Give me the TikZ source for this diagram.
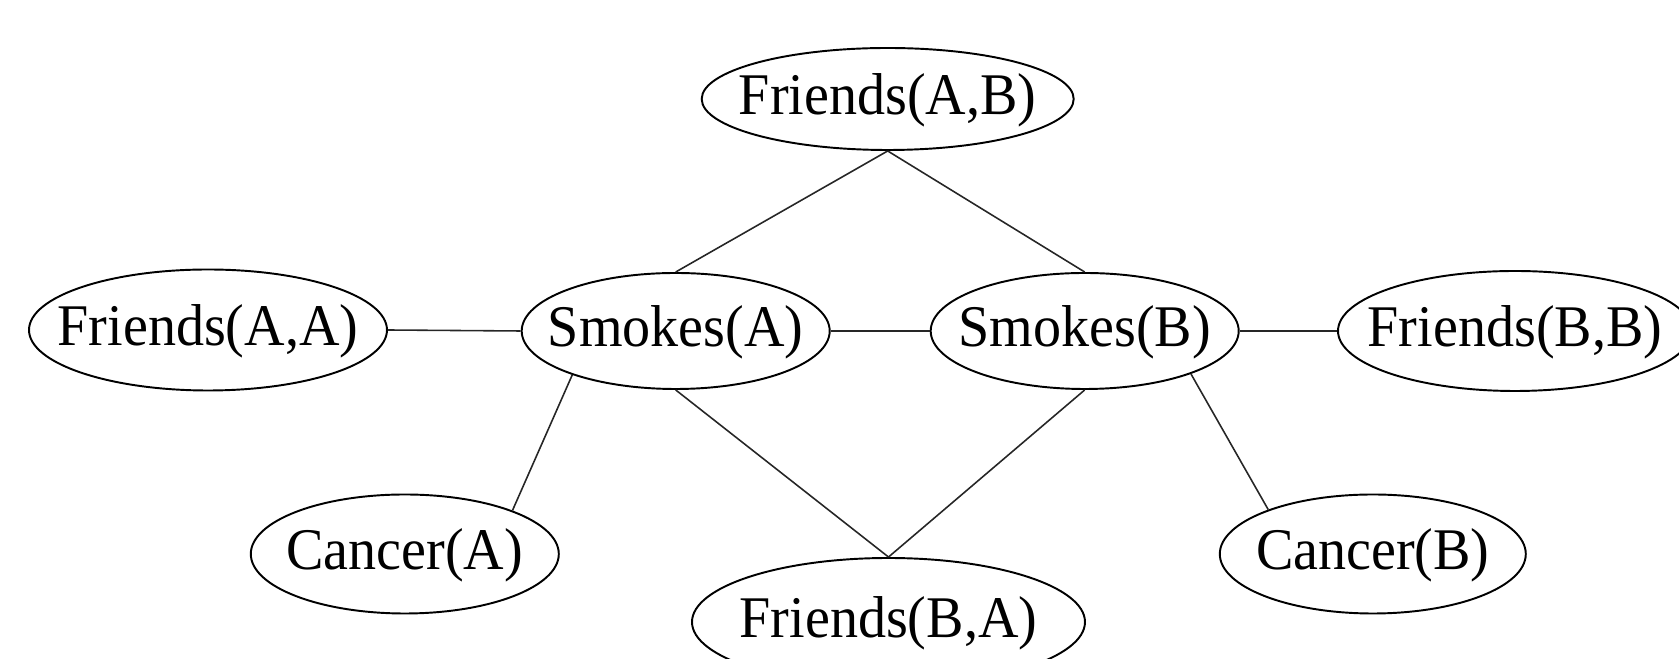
\documentclass[tikz,border=0pt]{standalone}
\usepackage{fontspec}
\setmainfont{Liberation Serif}[FakeStretch=0.95]
\usetikzlibrary{shapes.geometric}
\tikzset{
  ell/.style={ellipse, draw=black, line width=0.55pt, inner sep=0pt},
  lbl/.style={font=\fontsize{16.8}{19}\selectfont, yshift=-0.5pt},
  edge/.style={draw=black!85, line width=0.45pt}
}
\begin{document}
\begin{tikzpicture}[every label/.style={lbl}]
\useasboundingbox (0,0) rectangle (16.79,-6.59);
\clip (0,0) rectangle (16.79,-6.59);
\node[ell, minimum width=3.72cm, minimum height=1.02cm, label={center:Friends(A,B)}] (fab) at (8.877,-0.99) {};
\node[ell, minimum width=3.58cm, minimum height=1.21cm, label={center:Friends(A,A)}] (faa) at (2.08,-3.30) {};
\node[ell, minimum width=3.08cm, minimum height=1.16cm, label={center:Smokes(A)}] (sa) at (6.757,-3.31) {};
\node[ell, minimum width=3.08cm, minimum height=1.16cm, label={center:Smokes(B)}] (sb) at (10.847,-3.31) {};
\node[ell, minimum width=3.54cm, minimum height=1.20cm, label={center:Friends(B,B)}] (fbb) at (15.15,-3.31) {};
\node[ell, minimum width=3.08cm, minimum height=1.19cm, label={center:Cancer(A)}] (ca) at (4.048,-5.54) {};
\node[ell, minimum width=3.06cm, minimum height=1.19cm, label={center:Cancer(B)}] (cb) at (13.728,-5.54) {};
\node[ell, minimum width=3.93cm, minimum height=1.28cm, label={center:Friends(B,A)}] (fba) at (8.885,-6.22) {};
\draw[edge] (faa.east) -- (sa.west);
\draw[edge] (sa.east) -- (sb.west);
\draw[edge] (sb.east) -- (fbb.west);
\draw[edge] (fab.south) -- (sa.north);
\draw[edge] (fab.south) -- (sb.north);
\draw[edge] (sa.south) -- (fba.north);
\draw[edge] (sb.south) -- (fba.north);
\draw[edge] (sa.203) -- (ca.22);
\draw[edge] (sb.338) -- (cb.157);
\end{tikzpicture}
\end{document}
